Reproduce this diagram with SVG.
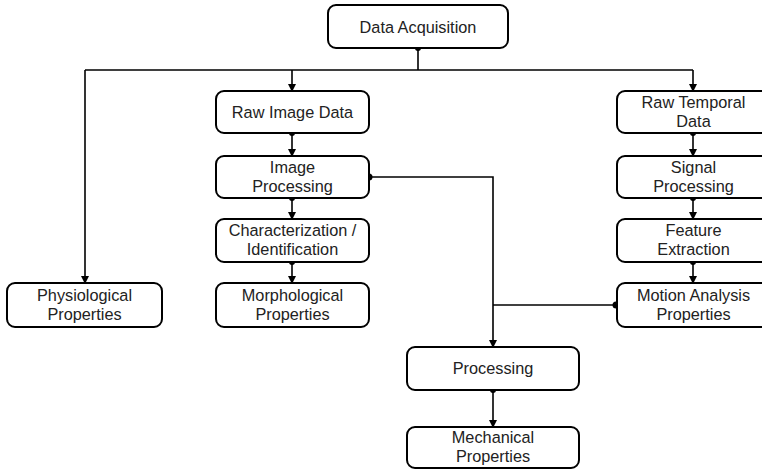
<svg xmlns="http://www.w3.org/2000/svg" width="762" height="472" viewBox="0 0 762 472">
<style>
.box{fill:#fff;stroke:#000;stroke-width:2}
.t{font-family:"Liberation Sans",Arial,sans-serif;font-size:16.3px;fill:#222;text-anchor:middle}
.c{fill:none;stroke:#000;stroke-width:1.6}
.d{fill:#000}
</style>
<defs>
<marker id="ah" markerWidth="8" markerHeight="8" refX="7" refY="4" orient="auto" markerUnits="userSpaceOnUse">
<path d="M0,0 L8,4 L0,8 Z" fill="#000"/>
</marker>
</defs>
<rect width="762" height="472" fill="#fff"/>
<g id="connectors">
<path class="c" d="M418,48 V70 M85,70 H693"/>
<path class="c" d="M85,70 V283" marker-end="url(#ah)"/>
<path class="c" d="M292,70 V91" marker-end="url(#ah)"/>
<path class="c" d="M693,70 V91" marker-end="url(#ah)"/>
<path class="c" d="M292,133 V156" marker-end="url(#ah)"/>
<path class="c" d="M292,198 V219" marker-end="url(#ah)"/>
<path class="c" d="M292,262 V283" marker-end="url(#ah)"/>
<path class="c" d="M693,133 V156" marker-end="url(#ah)"/>
<path class="c" d="M693,198 V219" marker-end="url(#ah)"/>
<path class="c" d="M693,262 V283" marker-end="url(#ah)"/>
<path class="c" d="M369,177 H493 V347" marker-end="url(#ah)"/>
<path class="c" d="M616,305 H493"/>
<path class="c" d="M493,390 V427" marker-end="url(#ah)"/>
<circle class="d" cx="418" cy="48" r="3"/>
<circle class="d" cx="292" cy="133" r="3"/>
<circle class="d" cx="292" cy="198" r="3"/>
<circle class="d" cx="292" cy="262" r="3"/>
<circle class="d" cx="369" cy="177" r="3.5"/>
<circle class="d" cx="693" cy="133" r="3"/>
<circle class="d" cx="693" cy="198" r="3"/>
<circle class="d" cx="693" cy="262" r="3"/>
<circle class="d" cx="616" cy="305" r="3.5"/>
<circle class="d" cx="493" cy="390" r="3"/>
</g>
<g id="data-acquisition"><rect class="box" x="328" y="5" width="180" height="43" rx="8"/><text class="t" x="418" y="32.5">Data Acquisition</text></g>
<g id="raw-image-data"><rect class="box" x="216" y="91" width="153" height="42" rx="8"/><text class="t" x="292.5" y="118">Raw Image Data</text></g>
<g id="image-processing"><rect class="box" x="216" y="156" width="153" height="42" rx="8"/><text class="t" x="292.5" y="173">Image</text><text class="t" x="292.5" y="192">Processing</text></g>
<g id="characterization"><rect class="box" x="216" y="219" width="153" height="43" rx="8"/><text class="t" x="292.5" y="236">Characterization /</text><text class="t" x="292.5" y="255">Identification</text></g>
<g id="morphological"><rect class="box" x="216" y="283" width="153" height="44" rx="8"/><text class="t" x="292.5" y="301">Morphological</text><text class="t" x="292.5" y="320">Properties</text></g>
<g id="physiological"><rect class="box" x="7" y="283" width="155" height="44" rx="8"/><text class="t" x="84.5" y="301">Physiological</text><text class="t" x="84.5" y="320">Properties</text></g>
<g id="raw-temporal-data"><rect class="box" x="617" y="91" width="153" height="42" rx="8"/><text class="t" x="693.5" y="108">Raw Temporal</text><text class="t" x="693.5" y="127">Data</text></g>
<g id="signal-processing"><rect class="box" x="617" y="156" width="153" height="42" rx="8"/><text class="t" x="693.5" y="173">Signal</text><text class="t" x="693.5" y="192">Processing</text></g>
<g id="feature-extraction"><rect class="box" x="617" y="219" width="153" height="43" rx="8"/><text class="t" x="693.5" y="236">Feature</text><text class="t" x="693.5" y="255">Extraction</text></g>
<g id="motion-analysis"><rect class="box" x="617" y="283" width="153" height="44" rx="8"/><text class="t" x="693.5" y="301">Motion Analysis</text><text class="t" x="693.5" y="320">Properties</text></g>
<g id="processing"><rect class="box" x="407" y="347" width="172" height="43" rx="8"/><text class="t" x="493" y="374">Processing</text></g>
<g id="mechanical"><rect class="box" x="407" y="427" width="172" height="41" rx="8"/><text class="t" x="493" y="443">Mechanical</text><text class="t" x="493" y="462">Properties</text></g>
</svg>
